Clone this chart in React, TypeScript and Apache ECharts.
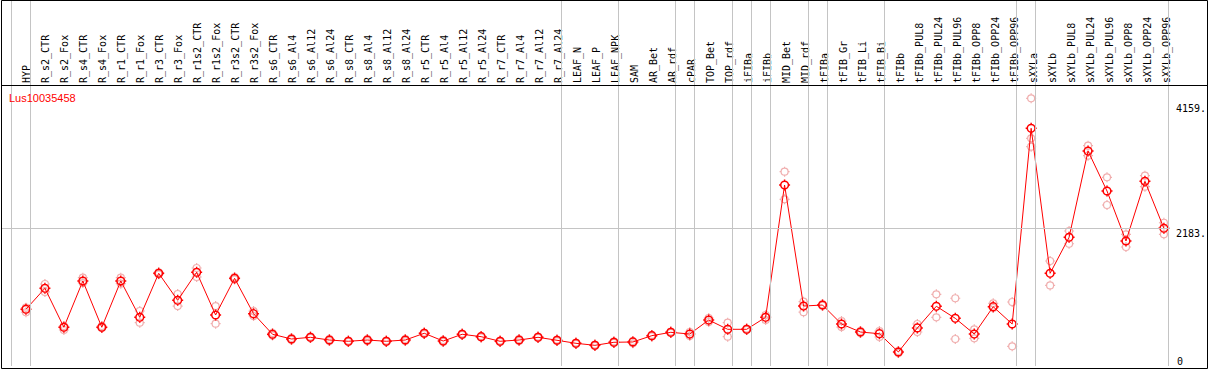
import React, { useEffect, useRef } from "react";
import * as echarts from "echarts";

const categories = [
  "HYP", "R_s2_CTR", "R_s2_Fox", "R_s4_CTR", "R_s4_Fox", "R_r1_CTR", "R_r1_Fox", "R_r3_CTR", "R_r3_Fox",
  "R_r1s2_CTR", "R_r1s2_Fox", "R_r3s2_CTR", "R_r3s2_Fox", "R_s6_CTR", "R_s6_Al4", "R_s6_Al12", "R_s6_Al24",
  "R_s8_CTR", "R_s8_Al4", "R_s8_Al12", "R_s8_Al24", "R_r5_CTR", "R_r5_Al4", "R_r5_Al12", "R_r5_Al24",
  "R_r7_CTR", "R_r7_Al4", "R_r7_Al12", "R_r7_Al24", "LEAF_N", "LEAF_P", "LEAF_NPK", "SAM", "AR_Bet", "AR_rdf",
  "cPAR", "TOP_Bet", "TOP_rdf", "iFIBa", "iFIBb", "MID_Bet", "MID_rdf", "tFIBa", "tFIB_Gr", "tFIB_Li", "tFIB_Bi",
  "tFIBb", "tFIBb_PUL8", "tFIBb_PUL24", "tFIBb_PUL96", "tFIBb_OPP8", "tFIBb_OPP24", "tFIBb_OPP96",
  "sXYLa", "sXYLb", "sXYLb_PUL8", "sXYLb_PUL24", "sXYLb_PUL96", "sXYLb_OPP8", "sXYLb_OPP24", "sXYLb_OPP96",
];

const meanValues = [
  899, 1232, 614, 1348, 614, 1348, 772, 1470, 1042, 1486, 809, 1391, 829, 503, 428, 455, 412,
  392, 412, 392, 412, 519, 396, 503, 465, 392, 412, 455, 408, 360, 328, 376, 381, 481, 534,
  507, 729, 582, 582, 772, 2870, 951, 967, 666, 539, 512, 222, 603, 947, 756, 507, 940, 666,
  3769, 1470, 2041, 3409, 2775, 1982, 2929, 2184,
];

const replicateA = [
  925, 1300, 634, 1400, 634, 1400, 872, 1486, 1142, 1554, 951, 1411, 872, 523, 444, 468, 428,
  404, 428, 404, 428, 531, 412, 515, 476, 404, 428, 468, 420, 373, 341, 389, 396, 492, 547,
  539, 761, 687, 595, 809, 3081, 1020, 978, 714, 555, 555, 238, 666, 1137, 1074, 582, 994, 1015,
  4245, 1665, 2141, 3494, 2992, 2088, 3018, 2272,
];

const replicateB = [
  852, 1174, 571, 1316, 603, 1305, 687, 1454, 951, 1411, 671, 1372, 793, 484, 412, 444, 396,
  381, 396, 381, 396, 507, 381, 492, 452, 381, 396, 444, 396, 349, 317, 365, 360, 468, 523,
  476, 698, 465, 571, 729, 2643, 853, 956, 618, 523, 460, 206, 539, 772, 428, 439, 920, 312,
  3611, 1277, 1939, 3335, 2553, 1887, 2843, 2088,
];

// third replicate only present for sXYLa
const replicateC: (number | null)[] = categories.map((c) => (c === "sXYLa" ? 3478 : null));

const rightTicks = [2183, 4159];
const zeroTick = [0];
const refLineValue = 2183;
// separators sit after these category counts
const groupBoundaries = [0, 1, 29, 32, 35, 36, 38, 39, 40, 42, 43, 46, 53, 54, 61];
const geneName = "Lus10035458";

const MARKER =
  "path://M3,10A7,7,0,1,0,17,10A7,7,0,1,0,3,10ZM10,0L10,3M10,17L10,20M0,10L3,10M17,10L20,10";

export default function App() {
  const ref = useRef<HTMLDivElement>(null);

  useEffect(() => {
    if (!ref.current) return;
    const chart = echarts.init(ref.current, null, { renderer: "svg" });

    const W = 1209;
    const plotLeft = 1;
    const plotRight = 38;
    const step = 19;
    const firstX = 26;
    const xMin = 1 - (firstX - plotLeft) / step;
    const xMax = xMin + (W - plotLeft - plotRight) / step;
    const yMax = 5804;

    const reps: [number, number][] = [];
    [replicateA, replicateB, replicateC].forEach((arr) =>
      arr.forEach((v, i) => {
        if (v != null) reps.push([i + 1, v]);
      })
    );

    chart.setOption({
      animation: false,
      backgroundColor: "#ffffff",
      title: {
        text: geneName,
        left: 9,
        top: 91,
        padding: 0,
        textStyle: {
          color: "#ff0000",
          fontFamily: "Liberation Sans",
          fontSize: 11,
          fontWeight: "normal",
          lineHeight: 13,
        },
      },
      grid: [
        { left: plotLeft, right: plotRight, top: 0, bottom: 4 },
        { left: firstX, right: 43, top: 85, height: 10 },
      ],
      xAxis: [
        {
          type: "value",
          gridIndex: 0,
          min: xMin,
          max: xMax,
          show: false,
        },
        {
          type: "category",
          gridIndex: 1,
          position: "top",
          boundaryGap: false,
          data: categories,
          axisLine: { show: false },
          axisTick: { show: false },
          splitLine: { show: false },
          axisLabel: {
            rotate: 90,
            interval: 0,
            margin: 2,
            fontFamily: "DejaVu Sans Mono",
            fontSize: 10,
            color: "#000000",
          },
        },
      ],
      yAxis: [
        {
          type: "value",
          gridIndex: 0,
          position: "right",
          min: 0,
          max: yMax,
          axisLine: { show: false },
          axisTick: { show: false },
          splitLine: { show: false },
          axisLabel: {
            customValues: rightTicks,
            formatter: (v: number) => `${v}.`,
            verticalAlign: "top",
            align: "left",
            margin: 7,
            fontFamily: "DejaVu Sans Mono",
            fontSize: 10,
            color: "#000000",
          },
        },
        {
          type: "value",
          gridIndex: 0,
          position: "right",
          min: 0,
          max: yMax,
          axisLine: { show: false },
          axisTick: { show: false },
          splitLine: { show: false },
          axisLabel: {
            customValues: zeroTick,
            showMinLabel: true,
            formatter: (v: number) => `${v}`,
            verticalAlign: "bottom",
            align: "left",
            margin: 8,
            fontFamily: "DejaVu Sans Mono",
            fontSize: 10,
            color: "#000000",
          },
        },
        { type: "value", gridIndex: 1, show: false },
      ],
      series: [
        {
          type: "scatter",
          xAxisIndex: 0,
          yAxisIndex: 0,
          data: reps,
          symbol: MARKER,
          symbolSize: 10,
          itemStyle: { color: "transparent", borderColor: "#ec9a9a", borderWidth: 1.2 },
          z: 2,
          silent: true,
          markLine: {
            silent: true,
            symbol: "none",
            label: { show: false },
            lineStyle: { color: "#c4c4c4", width: 1, type: "solid" },
            data: [
              ...groupBoundaries.map((b) => ({ xAxis: b + 0.24 })),
              { yAxis: refLineValue },
            ],
          },
        },
        {
          type: "line",
          xAxisIndex: 0,
          yAxisIndex: 0,
          data: meanValues.map((v, i) => [i + 1, v]),
          symbol: MARKER,
          symbolSize: 11,
          showSymbol: true,
          lineStyle: { color: "#ff0000", width: 1 },
          itemStyle: { color: "transparent", borderColor: "#ff0000", borderWidth: 1.5 },
          z: 3,
          silent: true,
        },
      ],
      graphic: [
        {
          type: "rect",
          shape: { x: 1.5, y: 0.5, width: 1206, height: 368 },
          style: { fill: "none", stroke: "#000000", lineWidth: 1 },
          z: 10,
          silent: true,
        },
        {
          type: "line",
          shape: { x1: 1, y1: 85.5, x2: 1208, y2: 85.5 },
          style: { stroke: "#000000", lineWidth: 1 },
          z: 10,
          silent: true,
        },
      ],
    });

    return () => chart.dispose();
  }, []);

  return (
    <div
      ref={ref}
      style={{ position: "fixed", left: 0, top: 0, width: 1209, height: 370, background: "#fff" }}
    />
  );
}
